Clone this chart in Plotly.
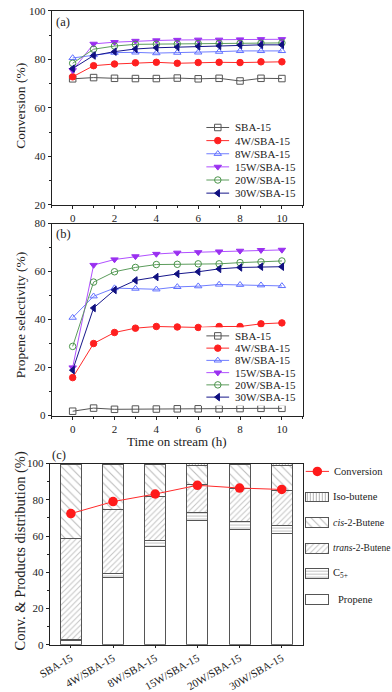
import plotly.graph_objects as go

W, H = 392, 692
FONT = "Liberation Serif"

# ---------------- data ----------------
time_h = [0, 1, 2, 3, 4, 5, 6, 7, 8, 9, 10]
series_names = ["SBA-15", "4W/SBA-15", "8W/SBA-15", "15W/SBA-15", "20W/SBA-15", "30W/SBA-15"]

conv_sba = [72.0, 72.5, 72.2, 72.1, 72.1, 72.3, 72.0, 72.2, 71.1, 72.2, 72.1]
conv_4w = [72.8, 77.4, 78.1, 78.6, 78.8, 78.4, 78.7, 78.8, 78.7, 79.0, 79.0]
conv_8w = [80.6, 81.8, 82.8, 82.9, 82.6, 82.8, 82.9, 83.2, 83.5, 83.5, 83.5]
conv_15w = [75.5, 86.4, 87.1, 87.6, 87.8, 88.0, 88.1, 88.1, 88.2, 88.3, 88.3]
conv_20w = [78.4, 84.2, 85.5, 86.2, 86.3, 86.4, 86.5, 86.6, 86.6, 86.7, 86.8]
conv_30w = [76.2, 81.6, 83.2, 84.3, 84.8, 85.1, 85.4, 85.6, 85.9, 86.0, 86.0]

sel_sba = [1.8, 3.1, 2.6, 2.7, 2.7, 2.8, 2.8, 2.8, 2.9, 3.0, 3.0]
sel_4w = [15.8, 30.0, 34.6, 36.4, 37.1, 36.9, 36.7, 37.1, 37.1, 38.2, 38.6]
sel_8w = [40.8, 49.7, 53.1, 52.9, 52.6, 53.6, 53.9, 54.6, 54.5, 54.3, 54.0]
sel_15w = [20.0, 62.7, 65.0, 66.3, 67.3, 67.8, 68.0, 68.3, 68.6, 68.9, 69.0]
sel_20w = [28.8, 55.6, 59.9, 61.7, 62.9, 63.0, 63.2, 63.2, 63.7, 64.0, 64.4]
sel_30w = [18.9, 44.8, 52.3, 56.3, 57.7, 59.0, 59.9, 61.1, 61.7, 62.0, 62.0]

catalysts = ["SBA-15", "4W/SBA-15", "8W/SBA-15", "15W/SBA-15", "20W/SBA-15", "30W/SBA-15"]
dist_propene = [2.6, 37.2, 54.0, 68.4, 63.7, 61.5]
dist_c5 = [0.3, 2.3, 3.4, 4.7, 4.3, 4.2]
dist_trans = [55.7, 35.0, 24.5, 15.5, 18.1, 19.7]
dist_cis = [40.9, 25.1, 17.6, 10.6, 13.2, 13.8]
dist_iso = [0.5, 0.4, 0.5, 0.8, 0.7, 0.8]
conversion_avg = [72.4, 79.0, 83.2, 88.0, 86.5, 85.7]

# ---------------- styles ----------------
styles = [
    dict(color="#555555", symbol="square-open", mcolor="#555555"),
    dict(color="#ff2a2a", symbol="circle", mcolor="#ff2020"),
    dict(color="#6f7dff", symbol="triangle-up-open", mcolor="#6070ff"),
    dict(color="#b050ff", symbol="triangle-down", mcolor="#9a30f0"),
    dict(color="#5c9c5c", symbol="circle-open", mcolor="#4a944a"),
    dict(color="#16168a", symbol="triangle-left", mcolor="#101080"),
]
MSIZE = 6.5


def xd(px):
    return px / W


def yd(py):
    return 1 - py / H


fig = go.Figure()

conv_series = [conv_sba, conv_4w, conv_8w, conv_15w, conv_20w, conv_30w]
sel_series = [sel_sba, sel_4w, sel_8w, sel_15w, sel_20w, sel_30w]

for name, ys, st in zip(series_names, conv_series, styles):
    fig.add_trace(go.Scatter(
        x=time_h, y=ys, mode="lines+markers", name=name, showlegend=False,
        line=dict(color=st["color"], width=1),
        marker=dict(symbol=st["symbol"], size=MSIZE, color=st["mcolor"],
                    line=dict(color=st["mcolor"], width=1)),
        xaxis="x", yaxis="y"))

for name, ys, st in zip(series_names, sel_series, styles):
    fig.add_trace(go.Scatter(
        x=time_h, y=ys, mode="lines+markers", name=name, showlegend=False,
        line=dict(color=st["color"], width=1),
        marker=dict(symbol=st["symbol"], size=MSIZE, color=st["mcolor"],
                    line=dict(color=st["mcolor"], width=1)),
        xaxis="x2", yaxis="y2"))

# ---- custom compact legends for panels (a) and (b) ----
legend_boxes = [
    # axis suffix, first row y (px), row step (px)
    ("4", 124.0, 13.4),
    ("5", 336.7, 12.5),
]
annotations = []
for suf, y0, dy in legend_boxes:
    for i, (name, st) in enumerate(zip(series_names, styles)):
        ry = y0 + dy * i
        fig.add_trace(go.Scatter(
            x=[200.5, 224], y=[ry, ry], mode="lines", showlegend=False, hoverinfo="skip",
            line=dict(color=st["color"], width=1), xaxis="x" + suf, yaxis="y" + suf))
        fig.add_trace(go.Scatter(
            x=[212.3], y=[ry], mode="markers", showlegend=False, hoverinfo="skip",
            marker=dict(symbol=st["symbol"], size=MSIZE, color=st["mcolor"],
                        line=dict(color=st["mcolor"], width=1)),
            xaxis="x" + suf, yaxis="y" + suf))
        annotations.append(dict(
            x=227.5, y=ry, xref="x" + suf, yref="y" + suf, text=name, showarrow=False,
            xanchor="left", yanchor="middle", font=dict(family=FONT, size=11, color="#222")))

# ---- panel (c) stacked bars ----
bar_line = dict(color="#555555", width=1)
bar_defs = [
    ("Propene", dist_propene, dict(shape="", bgcolor="white")),
    ("C<sub>5+</sub>", dist_c5, dict(shape="-", size=3, solidity=0.3, fgcolor="#777", bgcolor="white")),
    ("<i>trans</i>-2-Butene", dist_trans, dict(shape="/", size=4, solidity=0.25, fgcolor="#888", bgcolor="white")),
    ("<i>cis</i>-2-Butene", dist_cis, dict(shape="\\", size=6, solidity=0.18, fgcolor="#777", bgcolor="white")),
    ("Iso-butene", dist_iso, dict(shape="|", size=3, solidity=0.35, fgcolor="#666", bgcolor="white")),
]
for name, vals, pat in bar_defs:
    fig.add_trace(go.Bar(
        x=catalysts, y=vals, name=name, width=0.5, showlegend=False,
        marker=dict(color="white", line=bar_line, pattern=pat),
        xaxis="x3", yaxis="y3"))

fig.add_trace(go.Scatter(
    x=catalysts, y=conversion_avg, mode="lines+markers", name="Conversion", showlegend=False,
    line=dict(color="#ff2a2a", width=1),
    marker=dict(symbol="circle", size=9.5, color="#ff1a1a"),
    xaxis="x3", yaxis="y3"))

# ---- custom legend for panel (c) (px coordinates on a hidden overlay axis) ----
leg_c_row0, leg_c_step = 475.0, 26.1
fig.add_trace(go.Scatter(
    x=[303, 327], y=[leg_c_row0, leg_c_row0], mode="lines", showlegend=False, hoverinfo="skip",
    line=dict(color="#ff2a2a", width=1), xaxis="x6", yaxis="y6"))
fig.add_trace(go.Scatter(
    x=[315], y=[leg_c_row0], mode="markers", showlegend=False, hoverinfo="skip",
    marker=dict(symbol="circle", size=9.5, color="#ff1a1a"), xaxis="x6", yaxis="y6"))
annotations.append(dict(x=330, y=leg_c_row0, xref="x6", yref="y6", text="Conversion",
                        showarrow=False, xanchor="left", yanchor="middle",
                        font=dict(family=FONT, size=10.5, color="#222")))
leg_c_sizes = {"Propene": 10.5, "C<sub>5+</sub>": 10.5, "<i>trans</i>-2-Butene": 9.5,
               "<i>cis</i>-2-Butene": 10, "Iso-butene": 10.5}
for k, (name, vals, pat) in enumerate(reversed(bar_defs)):
    ry = leg_c_row0 + leg_c_step * (k + 1)
    fig.add_trace(go.Bar(
        y=[ry], x=[24], base=[303], width=10, orientation="h", showlegend=False,
        hoverinfo="skip", marker=dict(color="white", line=bar_line, pattern=pat),
        xaxis="x6", yaxis="y6"))
    annotations.append(dict(x=334 if name == "Propene" else 329, y=ry, xref="x6", yref="y6",
                            text=name, showarrow=False, xanchor="left", yanchor="middle",
                            font=dict(family=FONT, size=leg_c_sizes[name], color="#222")))

axis_common = dict(
    showline=True, linecolor="#222", linewidth=1, mirror=True,
    ticks="outside", ticklen=3, tickwidth=1, tickcolor="#222",
    showgrid=False, zeroline=False,
    tickfont=dict(family=FONT, size=11, color="#222"),
)
minor = dict(ticks="outside", ticklen=2, tickwidth=1, tickcolor="#222", showgrid=False)

hidden = dict(visible=False, showgrid=False, zeroline=False, fixedrange=True)

fig.update_layout(
    width=W, height=H, margin=dict(l=0, r=0, t=0, b=0),
    paper_bgcolor="white", plot_bgcolor="white",
    font=dict(family=FONT, color="#222"),
    barmode="stack", showlegend=False,
    xaxis=dict(axis_common, domain=[xd(41), xd(300)], range=[-1, 11], dtick=2,
               minor=dict(minor, dtick=1), anchor="y"),
    yaxis=dict(axis_common, domain=[yd(203), yd(5)], range=[20, 100], dtick=20,
               minor=dict(minor, dtick=10), anchor="x"),
    xaxis2=dict(axis_common, domain=[xd(41), xd(300)], range=[-1, 11], dtick=2,
                minor=dict(minor, dtick=1), anchor="y2"),
    yaxis2=dict(axis_common, domain=[yd(418), yd(222)], range=[0, 80], dtick=20,
                minor=dict(minor, dtick=10), anchor="x2"),
    xaxis3=dict(axis_common, domain=[xd(39), xd(300)], range=[-0.5, 5.5], type="category",
                tickangle=-30, ticklen=2, tickfont=dict(family=FONT, size=11, color="#222"),
                anchor="y3"),
    yaxis3=dict(axis_common, domain=[yd(652), yd(467)], range=[0, 100], dtick=20,
                minor=dict(minor, dtick=10), anchor="x3"),
    xaxis4=dict(hidden, domain=[xd(195), xd(300)], range=[195, 300], anchor="y4"),
    yaxis4=dict(hidden, domain=[yd(200), yd(114)], range=[200, 114], anchor="x4"),
    xaxis5=dict(hidden, domain=[xd(195), xd(300)], range=[195, 300], anchor="y5"),
    yaxis5=dict(hidden, domain=[yd(408), yd(328)], range=[408, 328], anchor="x5"),
    xaxis6=dict(hidden, domain=[xd(300), xd(392)], range=[300, 392], anchor="y6"),
    yaxis6=dict(hidden, domain=[yd(620), yd(462)], range=[620, 462], anchor="x6"),
)

# panel labels and titles
annotations += [
    dict(x=xd(43), y=yd(16), xref="paper", yref="paper", text="(a)", showarrow=False,
         xanchor="left", yanchor="middle", font=dict(family=FONT, size=12.5, color="#222")),
    dict(x=xd(43), y=yd(233), xref="paper", yref="paper", text="(b)", showarrow=False,
         xanchor="left", yanchor="middle", font=dict(family=FONT, size=12.5, color="#222")),
    dict(x=xd(39), y=yd(458), xref="paper", yref="paper", text="(c)", showarrow=False,
         xanchor="left", yanchor="middle", font=dict(family=FONT, size=12.5, color="#222")),
    dict(x=xd(9), y=yd(102), xref="paper", yref="paper", text="Conversion (%)", showarrow=False,
         textangle=-90, xanchor="center", yanchor="middle", font=dict(family=FONT, size=13.5, color="#222")),
    dict(x=xd(9), y=yd(315), xref="paper", yref="paper", text="Propene selectivity (%)", showarrow=False,
         textangle=-90, xanchor="center", yanchor="middle", font=dict(family=FONT, size=13.5, color="#222")),
    dict(x=xd(9), y=yd(556), xref="paper", yref="paper", text="Conv. &amp; Products distribution (%)",
         showarrow=False, textangle=-90, xanchor="center", yanchor="middle",
         font=dict(family=FONT, size=14.5, color="#222")),
    dict(x=xd(170.5), y=yd(444), xref="paper", yref="paper", text="Time on stream (h)", showarrow=False,
         xanchor="center", yanchor="middle", font=dict(family=FONT, size=13, color="#222")),
]
fig.update_layout(annotations=annotations)

fig.write_html(
    "out.html",
    config={"displayModeBar": False},
    post_script="document.body.style.margin='0px';document.body.style.overflow='hidden';",
)
